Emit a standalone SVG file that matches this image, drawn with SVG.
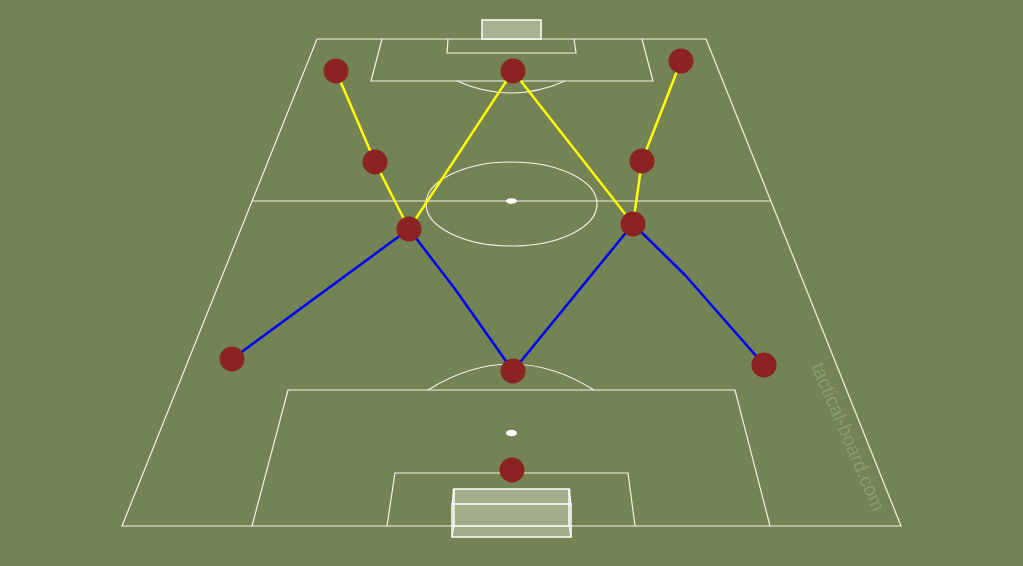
<svg xmlns="http://www.w3.org/2000/svg" width="1023" height="566" viewBox="0 0 1023 566">
<style>
.ln{fill:none;stroke:#f2f2ea;stroke-width:1.2}
.gl{fill:#a7b18f;stroke:#ffffff;stroke-width:1.5}
.y{fill:none;stroke:#ffff00;stroke-width:2.5;stroke-linejoin:round}
.b{fill:none;stroke:#0000ff;stroke-width:2.5;stroke-linejoin:round}
.p{fill:#8b2323}
</style>
<rect width="1023" height="566" fill="#748354"/>
<g id="pitch">
<polygon class="ln" points="317,39 706,39 901,526 122,526"/>
<line class="ln" x1="252" y1="201" x2="771" y2="201"/>
<ellipse class="ln" cx="511.5" cy="204" rx="85.5" ry="42"/>
<ellipse cx="511.5" cy="201" rx="5.5" ry="2.8" fill="#fff"/>
<polyline class="ln" points="382,39 371,81 653,81 642,39"/>
<polyline class="ln" points="448,39 447,53 576,53 574,39"/>
<path class="ln" d="M457,81 Q511,105 565,81"/>
<rect class="gl" x="482" y="20" width="59" height="19"/>
<polyline class="ln" points="252,526 288,390 735,390 770,526"/>
<polyline class="ln" points="387,526 395,473 628,473 635,526"/>
<path class="ln" d="M428,390 Q511,338 594,390"/>
<ellipse cx="511.5" cy="433" rx="5.5" ry="3.2" fill="#fff"/>
<rect x="452" y="489" width="119" height="48" fill="#a7b18f" opacity="0.9"/>
<rect x="454" y="489" width="115" height="37" fill="none" stroke="#fff" stroke-width="1.5"/>
<rect x="452" y="504" width="119" height="33" fill="none" stroke="#fff" stroke-width="1.5"/>
<line x1="454" y1="489" x2="452" y2="504" stroke="#fff" stroke-width="1.2"/>
<line x1="569" y1="489" x2="571" y2="504" stroke="#fff" stroke-width="1.2"/>
<line x1="454" y1="526" x2="452" y2="537" stroke="#fff" stroke-width="1"/>
<line x1="569" y1="526" x2="571" y2="537" stroke="#fff" stroke-width="1"/>
</g>
<g id="connectors">
<polyline class="y" points="336,71 375,162 409,229"/>
<line class="y" x1="513" y1="71" x2="409" y2="229"/>
<line class="y" x1="513" y1="71" x2="633" y2="224"/>
<polyline class="y" points="681,61 642,161 633,224"/>
<line class="b" x1="409" y1="229" x2="232" y2="359"/>
<polyline class="b" points="409,229 455,289 513,371"/>
<line class="b" x1="633" y1="224" x2="513" y2="371"/>
<polyline class="b" points="633,224 685,275 764,365"/>
</g>
<g id="player-1"><circle class="p" cx="336" cy="71" r="12.5"/></g>
<g id="player-2"><circle class="p" cx="513" cy="71" r="12.5"/></g>
<g id="player-3"><circle class="p" cx="681" cy="61" r="12.5"/></g>
<g id="player-4"><circle class="p" cx="375" cy="162" r="12.5"/></g>
<g id="player-5"><circle class="p" cx="642" cy="161" r="12.5"/></g>
<g id="player-6"><circle class="p" cx="409" cy="229" r="12.5"/></g>
<g id="player-7"><circle class="p" cx="633" cy="224" r="12.5"/></g>
<g id="player-8"><circle class="p" cx="232" cy="359" r="12.5"/></g>
<g id="player-9"><circle class="p" cx="513" cy="371" r="12.5"/></g>
<g id="player-10"><circle class="p" cx="764" cy="365" r="12.5"/></g>
<g id="player-11"><circle class="p" cx="512" cy="470" r="12.5"/></g>
<text x="0" y="0" transform="translate(811,366) rotate(67)" font-family="Liberation Sans, Arial, sans-serif" font-size="19.5" fill="#8b9a72">tactical-board.com</text>
</svg>
